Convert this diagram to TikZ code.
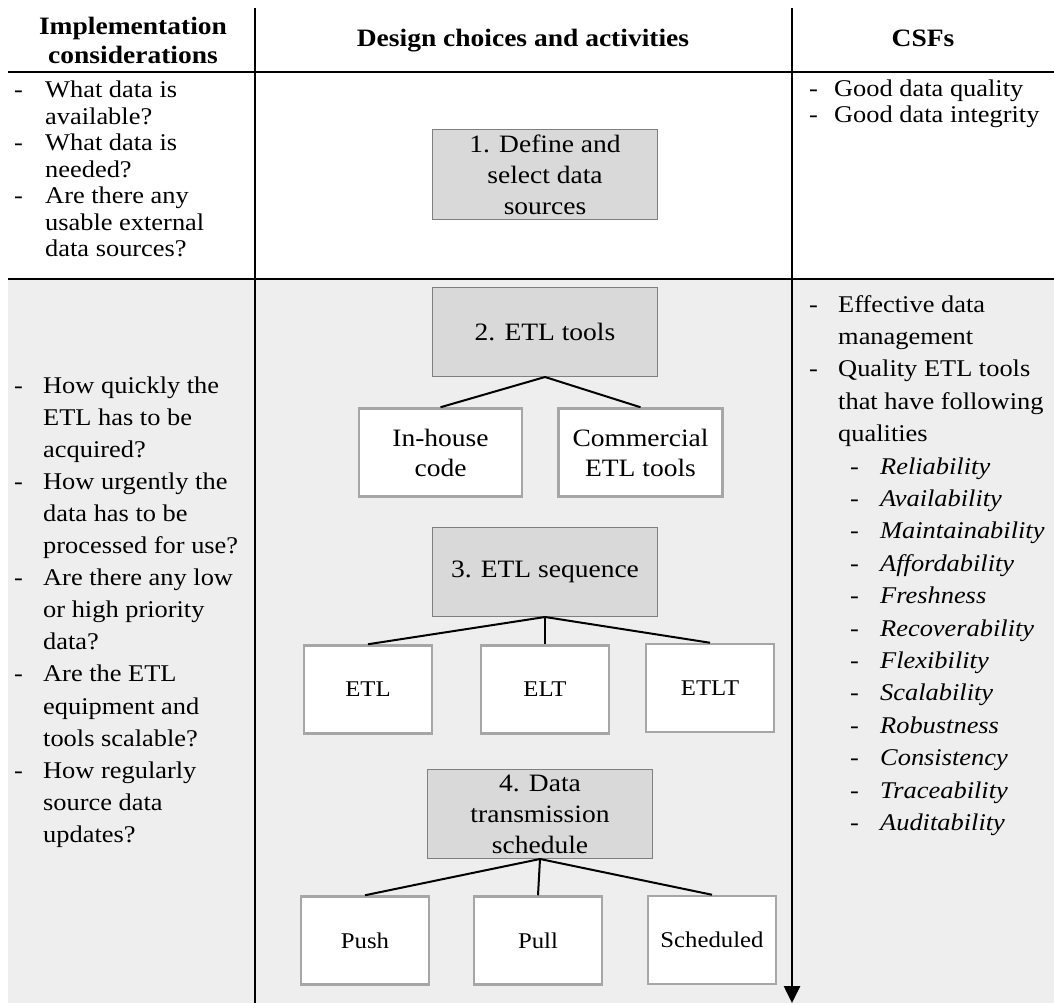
\documentclass[tikz,border=0pt]{standalone}
\usepackage{fontspec}
\setmainfont{Liberation Serif}[FakeStretch=1.1]
\usetikzlibrary{arrows.meta}

\definecolor{rowgray}{RGB}{238,238,238}
\definecolor{stepfill}{RGB}{217,217,217}
\definecolor{stepline}{RGB}{127,127,127}
\definecolor{optline}{RGB}{166,166,166}

% list helpers: a dash column followed by the item text
\newcommand\dashcol[1]{\begin{tabular}[t]{@{}p{#1}@{}l@{}}}
\newcommand\qualitem[1]{\hspace{12pt}\makebox[30pt][l]{-}\textit{#1}}

\begin{document}
\begin{tikzpicture}[x=1pt,y=-1pt,
  rule/.style={line width=2.6pt},
  link/.style={line width=2pt},
  hdr/.style={inner sep=0pt,align=center,font=\fontsize{25}{29}\selectfont\bfseries},
  listnode/.style={inner sep=0pt,anchor=base west},
  stepbox/.style={draw=stepline,fill=stepfill,line width=1pt,align=center,inner sep=0pt,
    minimum width=225pt,minimum height=89pt,font=\fontsize{25}{31}\selectfont},
  optbox/.style={draw=optline,fill=white,line width=2.5pt,align=center,inner sep=0pt,
    minimum height=88pt,font=\fontsize{25}{30}\selectfont},
  smallbox/.style={optbox,minimum width=128pt,font=\fontsize{22.5}{27}\selectfont}]

\useasboundingbox (0,0) rectangle (1054,1003);

% shaded second row
\fill[rowgray] (8,279) rectangle (1054,1003);

% table rules
\coordinate (r1a) at (8,72);   \coordinate (r1b) at (1054,72);
\coordinate (r2a) at (8,279);  \coordinate (r2b) at (1054,279);
\coordinate (c1a) at (255,8);  \coordinate (c1b) at (255,1003);
\coordinate (c2a) at (792,8);  \coordinate (c2b) at (792,1003);
\draw[rule] (r1a) -- (r1b);
\draw[rule] (r2a) -- (r2b);
\draw[rule] (c1a) -- (c1b);
\draw[rule,-{Triangle[length=17pt,width=16pt]}] (c2a) -- (c2b);

% column headers
\node[hdr] (h1) at (133,40) {Implementation\\considerations};
\node[hdr,anchor=base] (h2) at (523,47) {Design choices and activities};
\node[hdr,anchor=base] (h3) at (923,47) {CSFs};

% implementation considerations
\node[listnode] (q1) at (14,98) {\fontsize{24}{26.5}\selectfont
  \dashcol{31pt}
  - & What data is\\
    & available?\\
  - & What data is\\
    & needed?\\
  - & Are there any\\
    & usable external\\
    & data sources?
  \end{tabular}};

\node[listnode] (q2) at (14,393) {\fontsize{24}{32.1}\selectfont
  \dashcol{29pt}
  - & How quickly the\\
    & ETL has to be\\
    & acquired?\\
  - & How urgently the\\
    & data has to be\\
    & processed for use?\\
  - & Are there any low\\
    & or high priority\\
    & data?\\
  - & Are the ETL\\
    & equipment and\\
    & tools scalable?\\
  - & How regularly\\
    & source data\\
    & updates?
  \end{tabular}};

% critical success factors
\node[listnode] (f1) at (809,97) {\fontsize{24}{25.5}\selectfont
  \dashcol{25pt}
  - & Good data quality\\
  - & Good data integrity
  \end{tabular}};

\node[listnode] (f2) at (809,312) {\fontsize{24}{32.4}\selectfont
  \dashcol{29pt}
  - & Effective data\\
    & management\\
  - & Quality ETL tools\\
    & that have following\\
    & qualities\\
    & \qualitem{Reliability}\\
    & \qualitem{Availability}\\
    & \qualitem{Maintainability}\\
    & \qualitem{Affordability}\\
    & \qualitem{Freshness}\\
    & \qualitem{Recoverability}\\
    & \qualitem{Flexibility}\\
    & \qualitem{Scalability}\\
    & \qualitem{Robustness}\\
    & \qualitem{Consistency}\\
    & \qualitem{Traceability}\\
    & \qualitem{Auditability}
  \end{tabular}};

% design steps
\node[stepbox] (s1) at (545,174.5) {1. Define and\\select data\\sources};
\node[stepbox] (s2) at (545,332) {2. ETL tools};
\node[optbox,minimum width=163pt] (inh) at (440.5,452.5) {In-house\\code};
\node[optbox,minimum width=164pt] (com) at (640.5,452.5) {Commercial\\ETL tools};

\node[stepbox] (s3) at (545,572) {3. ETL sequence};
\node[smallbox] (etl) at (368,689.5) {ETL};
\node[smallbox] (elt) at (545,689.5) {ELT};
\node[smallbox] (etlt) at (710,688) {ETLT};

\node[stepbox] (s4) at (540,814) {4. Data\\transmission\\schedule};
\node[smallbox] (push) at (365,940.5) {Push};
\node[smallbox] (pull) at (538,940.5) {Pull};
\node[smallbox] (sch) at (712,940) {Scheduled};

% branches
\draw[link] (s2.south) -- (inh.north);
\draw[link] (s2.south) -- (com.north);
\draw[link] (s3.south) -- (etl.north);
\draw[link] (s3.south) -- (elt.north);
\draw[link] (s3.south) -- (etlt.north);
\draw[link] (s4.south) -- (push.north);
\draw[link] (s4.south) -- (pull.north);
\draw[link] (s4.south) -- (sch.north);
\end{tikzpicture}
\end{document}
